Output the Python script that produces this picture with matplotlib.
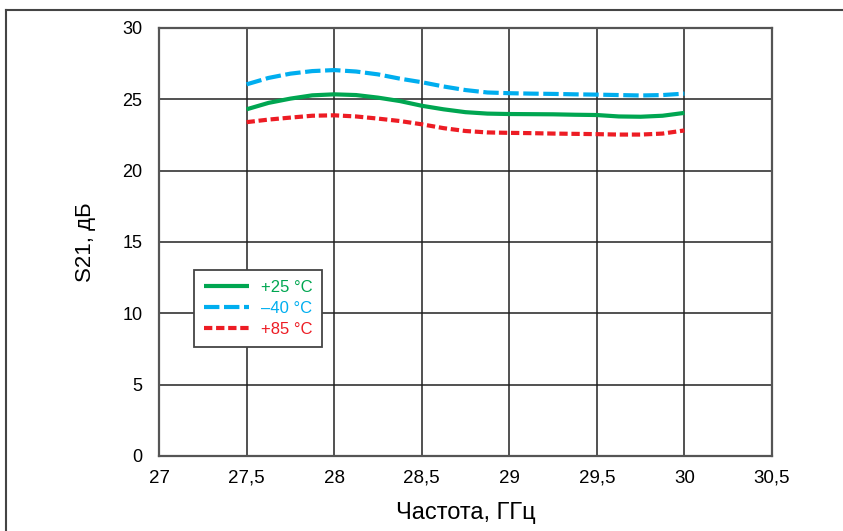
import matplotlib
matplotlib.use("Agg")
import matplotlib.pyplot as plt
from matplotlib.lines import Line2D

freq = [27.5, 27.625, 27.75, 27.875, 28.0, 28.125, 28.25, 28.375, 28.5, 28.625, 28.75,
        28.875, 29.0, 29.125, 29.25, 29.375, 29.5, 29.625, 29.75, 29.875, 30.0]
s21_p25 = [24.3, 24.75, 25.05, 25.28, 25.35, 25.3, 25.12, 24.88, 24.55, 24.3, 24.1,
           24.0, 23.97, 23.96, 23.95, 23.92, 23.9, 23.8, 23.78, 23.85, 24.05]
s21_m40 = [26.05, 26.5, 26.8, 26.98, 27.05, 26.95, 26.75, 26.45, 26.2, 25.9, 25.65,
           25.48, 25.43, 25.4, 25.38, 25.35, 25.33, 25.3, 25.27, 25.3, 25.4]
s21_p85 = [23.4, 23.58, 23.72, 23.85, 23.88, 23.8, 23.65, 23.48, 23.25, 22.98, 22.78,
           22.68, 22.65, 22.63, 22.6, 22.58, 22.56, 22.53, 22.53, 22.6, 22.82]
labels = ["+25 °C", "–40 °C", "+85 °C"]
colors = ["#00A651", "#00AEEF", "#ED1C24"]

xticks = [27, 27.5, 28, 28.5, 29, 29.5, 30, 30.5]
xticklabels = ["27", "27,5", "28", "28,5", "29", "29,5", "30", "30,5"]
yticks = [0, 5, 10, 15, 20, 25, 30]

FONT = ["Liberation Sans", "DejaVu Sans"]

W, H = 843, 531
fig = plt.figure(figsize=(W / 100, H / 100), dpi=100)
ax = fig.add_axes([159 / W, (H - 456) / H, (772 - 159) / W, (456 - 28) / H])

# figure border (top and left only)
fig.add_artist(Line2D([6 / W, 1.0], [(H - 10) / H, (H - 10) / H], color="#444444", lw=1.5,
                      transform=fig.transFigure))
fig.add_artist(Line2D([6 / W, 6 / W], [0, (H - 10) / H], color="#444444", lw=1.5,
                      transform=fig.transFigure))

lw = 3.0
ax.plot(freq, s21_p25, color=colors[0], lw=lw, solid_capstyle="butt", label=labels[0], zorder=3)
ax.plot(freq, s21_m40, color=colors[1], lw=lw, dashes=(3.7, 1.1), dash_capstyle="butt",
        label=labels[1], zorder=3)
ax.plot(freq, s21_p85, color=colors[2], lw=lw, dashes=(2.0, 0.9), dash_capstyle="butt",
        label=labels[2], zorder=3)

ax.set_xlim(27, 30.5)
ax.set_ylim(0, 30)
ax.set_xticks(xticks)
ax.set_xticklabels(xticklabels, family=FONT, fontsize=13.5, va="center")
ax.set_yticks(yticks)
ax.set_yticklabels([str(v) for v in yticks], family=FONT, fontsize=13)
ax.tick_params(axis="both", length=0)
ax.tick_params(axis="x", pad=16)
ax.tick_params(axis="y", pad=12)
ax.grid(True, color="#222222", lw=1.1)
ax.set_axisbelow(True)
for s in ax.spines.values():
    s.set_color("#555555")
    s.set_linewidth(1.6)

ax.set_xlabel("Частота, ГГц", family=FONT, fontsize=17, labelpad=11)
ax.set_ylabel("S21, дБ", family=FONT, fontsize=16, labelpad=19)

leg = ax.legend(loc="upper left", bbox_to_anchor=((194 - 159) / 613, (456 - 270) / 428),
                borderaxespad=0, fancybox=False, framealpha=1, edgecolor="#444444",
                prop={"family": FONT, "size": 12},
                handlelength=2.7, handletextpad=0.7, labelspacing=0.35, borderpad=0.6,
                markerfirst=True)
leg.get_frame().set_linewidth(1.3)
for t, c in zip(leg.get_texts(), colors):
    t.set_color(c)

fig.savefig("out.png", dpi=100)
